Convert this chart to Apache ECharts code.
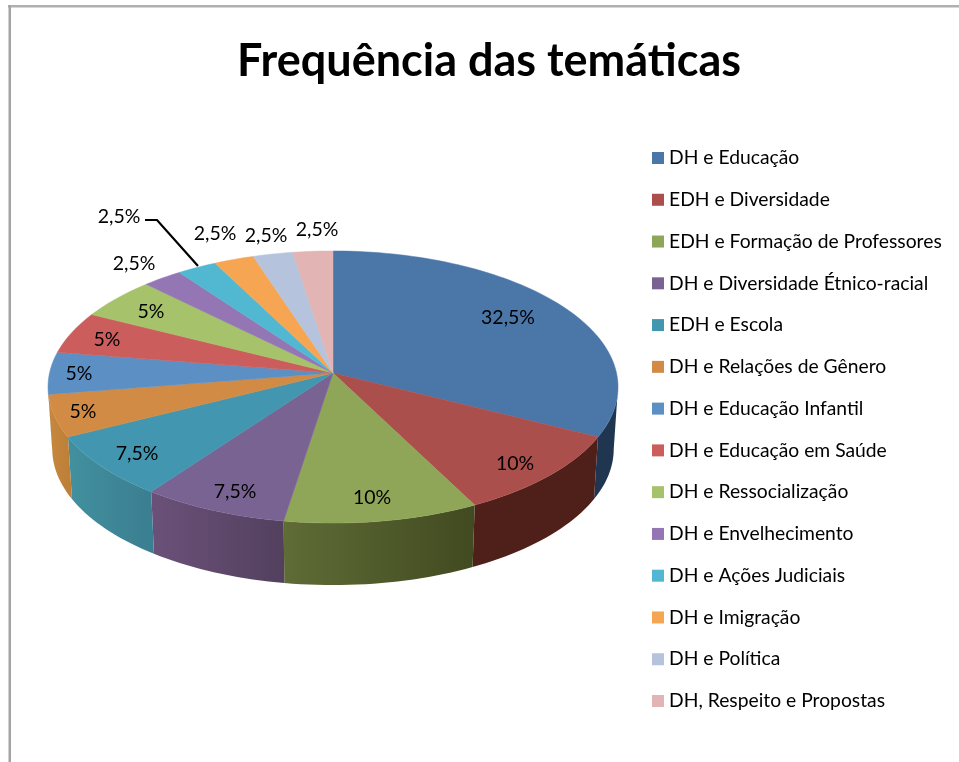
<!DOCTYPE html>
<html>
<head>
<meta charset="utf-8">
<style>
 html,body{margin:0;padding:0;background:#fff;overflow:hidden;}
 #chart{width:959px;height:762px;}
</style>
<script src="https://cdn.jsdelivr.net/npm/echarts@6/dist/echarts.min.js"></script>
</head>
<body>
<div id="chart"></div>
<script type="text/javascript">
	var categories = ['DH e Educação','EDH e Diversidade','EDH e Formação de Professores','DH e Diversidade Étnico-racial','EDH e Escola','DH e Relações de Gênero','DH e Educação Infantil','DH e Educação em Saúde','DH e Ressocialização','DH e Envelhecimento','DH e Ações Judiciais','DH e Imigração','DH e Política','DH, Respeito e Propostas'];
	var values = [32.5,10,10,7.5,7.5,5,5,5,5,2.5,2.5,2.5,2.5,2.5];

	var topColors = ['#4a76a8','#ab4f4c','#8fa558','#796393','#4296af','#d28b45','#5c90c4','#cb5e5c','#a6c26a','#9376b3','#52b7d1','#f6a552','#b5c3dd','#e2b4b4'];
	// lado esquerdo / lado direito da parede lateral
	var wallColors = [['#1f3550','#1f3550'],['#4f1f1a','#4f1f1a'],['#5f6c36','#414a20'],['#6b5179','#52405e'],['#42909f','#3a7e90'],['#c8873e','#bb7f37'],['#4a76a0','#4a76a0']];
	// centro dos rótulos, em pixels da página
	var labelAt = [[508,318],[515,464],[372,498],[235,492],[137,454],[83,412],[79,374],[107,340],[151,312],[134,264],[119,217],[215,234],[266,236],[317,230]];

	var cx = 333, cy = 373, rx = 283.5, ry = 134.6, persp = 0.103, depth = 62, shrink = 0.985;
	var total = values.reduce(function (a, b) { return a + b; }, 0);
	var starts = [];
	values.reduce(function (acc, v, i) { starts[i] = acc; return acc + v; }, 0);

	function point(deg) {
		var a = deg * Math.PI / 180;
		var s = 1 + persp * Math.cos(a);
		return [cx + rx * Math.sin(a) / s, cy - ry * Math.cos(a) / s];
	}
	function lower(p) {
		return [cx + (p[0] - cx) * shrink, p[1] + depth];
	}
	function arc(from, to) {
		var pts = [], n = Math.max(2, Math.ceil((to - from) / 1.5));
		for (var i = 0; i <= n; i++) {
			pts.push(point(from + (to - from) * i / n));
		}
		return pts;
	}

	var wallFrom = Math.acos(-persp) * 180 / Math.PI, wallTo = 360 - wallFrom;

	function renderSlice(params, api) {
		var i = params.seriesIndex;
		var from = starts[i] / total * 360;
		var to = from + api.value(0) / total * 360;
		var children = [];

		// parede lateral
		var wf = Math.max(from, wallFrom), wt = Math.min(to, wallTo);
		if (wt > wf && wallColors[i]) {
			var upper = arc(wf, wt);
			var low = upper.map(lower).reverse();
			children.push({
				type: 'polygon',
				shape: { points: upper.concat(low) },
				style: {
					fill: {
						type: 'linear', x: 0, y: 0, x2: 1, y2: 0,
						colorStops: [{ offset: 0, color: wallColors[i][0] }, { offset: 1, color: wallColors[i][1] }]
					}
				}
			});
		}

		// face superior
		var color = topColors[i];
		children.push({
			type: 'polygon',
			shape: { points: [[cx, cy]].concat(arc(from, to)) },
			style: { fill: color, stroke: color, lineWidth: 0.5 }
		});

		// linha de chamada do rótulo deslocado
		if (i === 10) {
			children.push({
				type: 'polyline',
				shape: { points: [[145, 220], [157, 220], [198, 266]] },
				style: { fill: null, stroke: '#000', lineWidth: 2.2 },
				z2: 50
			});
		}

		children.push({
			type: 'text',
			x: labelAt[i][0],
			y: labelAt[i][1],
			z2: 100,
			style: {
				text: String(api.value(0)).replace('.', ',') + '%',
				font: '19.5px Lato',
				fill: '#000',
				align: 'center',
				verticalAlign: 'middle'
			}
		});
		return { type: 'group', children: children };
	}

	var options = {
		animation: false,
		backgroundColor: '#fff',
		color: topColors,
		title: {
			text: 'Frequência das temáticas',
			left: 484,
			top: 34,
			textAlign: 'center',
			textStyle: { fontFamily: 'Lato', fontWeight: 'bold', fontSize: 45, color: '#000' }
		},
		legend: {
			orient: 'vertical',
			left: 652,
			top: 148,
			padding: 0,
			icon: 'rect',
			itemWidth: 12,
			itemHeight: 12,
			itemGap: 21.77,
			selectedMode: false,
			data: categories,
			textStyle: { fontFamily: 'Lato', fontSize: 19.3, color: '#000', lineHeight: 20 }
		},
		graphic: [
			{ type: 'rect', shape: { x: 8, y: 5, width: 951, height: 2.5 }, style: { fill: '#b0b0b0' }, silent: true },
			{ type: 'rect', shape: { x: 8.5, y: 5, width: 2.5, height: 757 }, style: { fill: '#a3a3a3' }, silent: true }
		],
		series: categories.map(function (name, i) {
			return {
				type: 'custom',
				name: name,
				coordinateSystem: 'none',
				silent: true,
				itemStyle: { color: topColors[i] },
				renderItem: renderSlice,
				data: [[values[i]]]
			};
		})
	};

	var myChart = echarts.init(document.getElementById('chart'));
	myChart.setOption(options);
</script>
</body>
</html>
